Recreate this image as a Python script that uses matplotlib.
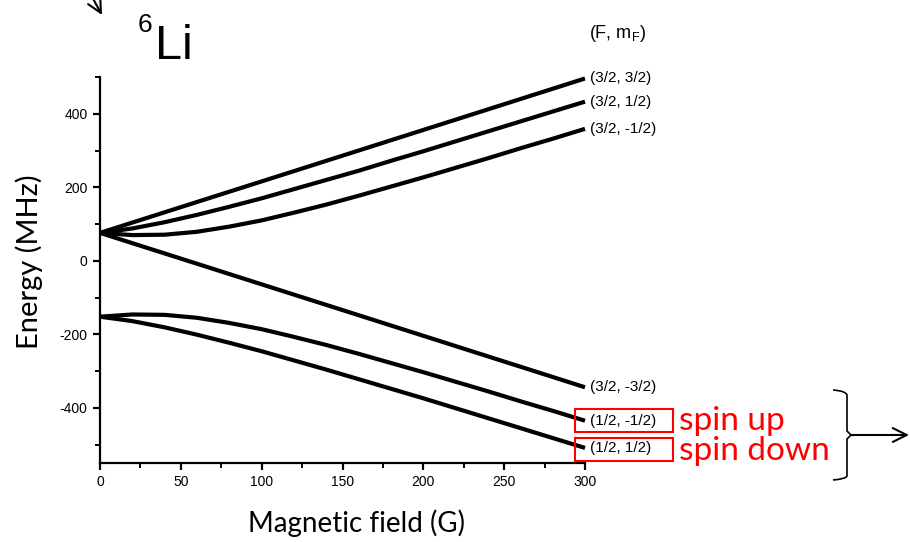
import numpy as np
import matplotlib
matplotlib.use('Agg')
from matplotlib import pyplot as plt
from matplotlib.path import Path
from matplotlib.patches import PathPatch, Rectangle, FancyArrowPatch
from matplotlib.ticker import MultipleLocator

# magnetic field (G) and energies (MHz)
field = [0, 20, 40, 60, 80, 100, 120, 140, 160, 180, 200, 220, 240, 260, 280, 300]
e_32_p32 = [76, 104, 132, 160, 188, 216, 244, 272, 300, 328, 356, 384, 412, 440, 468, 496]
e_32_p12 = [76, 88, 105, 125, 147, 170, 195, 220, 245, 272, 298, 325, 352, 379, 406, 433]
e_32_m12 = [76, 70, 71, 79, 93, 110, 131, 153, 177, 202, 227, 253, 279, 306, 332, 359]
e_32_m32 = [76, 48, 20, -8, -36, -64, -92, -120, -148, -176, -204, -232, -260, -288, -316, -344]
e_12_m12 = [-152, -146, -147, -155, -169, -186, -207, -229, -253, -278, -303, -329, -355, -382, -408, -435]
e_12_p12 = [-152, -164, -181, -201, -223, -246, -271, -296, -322, -348, -374, -401, -428, -455, -482, -509]

states = [e_32_p32, e_32_p12, e_32_m12, e_32_m32, e_12_m12, e_12_p12]
state_labels = ['(3/2, 3/2)', '(3/2, 1/2)', '(3/2, -1/2)', '(3/2, -3/2)', '(1/2, -1/2)', '(1/2, 1/2)']

plt.rcParams['axes.unicode_minus'] = False
plt.rcParams['mathtext.default'] = 'regular'

W, H = 910, 542
fig = plt.figure(figsize=(W / 100, H / 100), dpi=100)

def fx(px):
    return px / W

def fy(py):
    return 1 - py / H

ax = fig.add_axes([fx(100), fy(463), 485 / W, 386 / H])

for energies, lab in zip(states, state_labels):
    ax.plot(field, energies, color='black', lw=3.0, solid_capstyle='butt', clip_on=False)
    ax.annotate(lab, xy=(field[-1], energies[-1]), xytext=(5, 0), textcoords='offset pixels',
                va='center', ha='left', fontsize=11, family='Liberation Sans', annotation_clip=False)

ax.set_xlim(0, 300)
ax.set_ylim(-550, 500)
ax.xaxis.set_major_locator(MultipleLocator(50))
ax.xaxis.set_minor_locator(MultipleLocator(25))
ax.yaxis.set_major_locator(MultipleLocator(200))
ax.yaxis.set_minor_locator(MultipleLocator(100))
for s in ['top', 'right']:
    ax.spines[s].set_visible(False)
for s in ['left', 'bottom']:
    ax.spines[s].set_linewidth(1.6)
ax.tick_params(which='major', length=5, width=1.6, labelsize=10, pad=4)
ax.tick_params(which='minor', length=3.5, width=1.4)
for t in ax.get_xticklabels() + ax.get_yticklabels():
    t.set_family('Liberation Sans')

# axis titles
fig.text(fx(29), fy(262), 'Energy (MHz)', rotation=90, ha='center', va='center',
         fontsize=21, family='Lato')
fig.text(fx(356), fy(523), 'Magnetic field (G)', ha='center', va='center',
         fontsize=20, family='Lato')

# 6Li title and header
fig.text(fx(138), fy(32), '6', fontsize=19, family='Liberation Sans', va='baseline')
fig.text(fx(155), fy(59), 'Li', fontsize=35, family='Liberation Sans', va='baseline')
fig.text(fx(589), fy(34), '(F, m$_{F}$)', fontsize=13, family='Liberation Sans', va='center')

# red boxes and spin notes
for top in [409, 438]:
    fig.patches.append(Rectangle((fx(575), fy(top + 23)), 98 / W, 23 / H, fill=False,
                                 edgecolor='red', lw=1.5, transform=fig.transFigure))
fig.text(fx(679), fy(421), 'spin up', color='red', fontsize=24, family='Lato', va='center')
fig.text(fx(679), fy(451), 'spin down', color='red', fontsize=24, family='Lato', va='center')

# brace and arrow on the right
bx = [833, 846, 847, 847, 851, 847, 847, 846, 833]
by = [390, 391, 395, 431, 435, 439, 476, 479, 480]
codes = [Path.MOVETO, Path.CURVE3, Path.CURVE3, Path.LINETO, Path.LINETO,
         Path.LINETO, Path.LINETO, Path.CURVE3, Path.CURVE3]
brace = Path([(fx(a), fy(b)) for a, b in zip(bx, by)], codes)
fig.patches.append(PathPatch(brace, fill=False, lw=1.2, edgecolor='black', transform=fig.transFigure))
fig.patches.append(FancyArrowPatch((fx(851), fy(435)), (fx(909), fy(435)),
                   arrowstyle='->,head_length=10,head_width=5', lw=1.5, color='black',
                   transform=fig.transFigure, shrinkA=0, shrinkB=0))
# arrow at top left
fig.patches.append(FancyArrowPatch((fx(80), fy(-25)), (fx(102), fy(15)),
                   arrowstyle='->,head_length=10,head_width=5', lw=1.5, color='black',
                   transform=fig.transFigure, shrinkA=0, shrinkB=0))

fig.savefig('out.png', dpi=100)
